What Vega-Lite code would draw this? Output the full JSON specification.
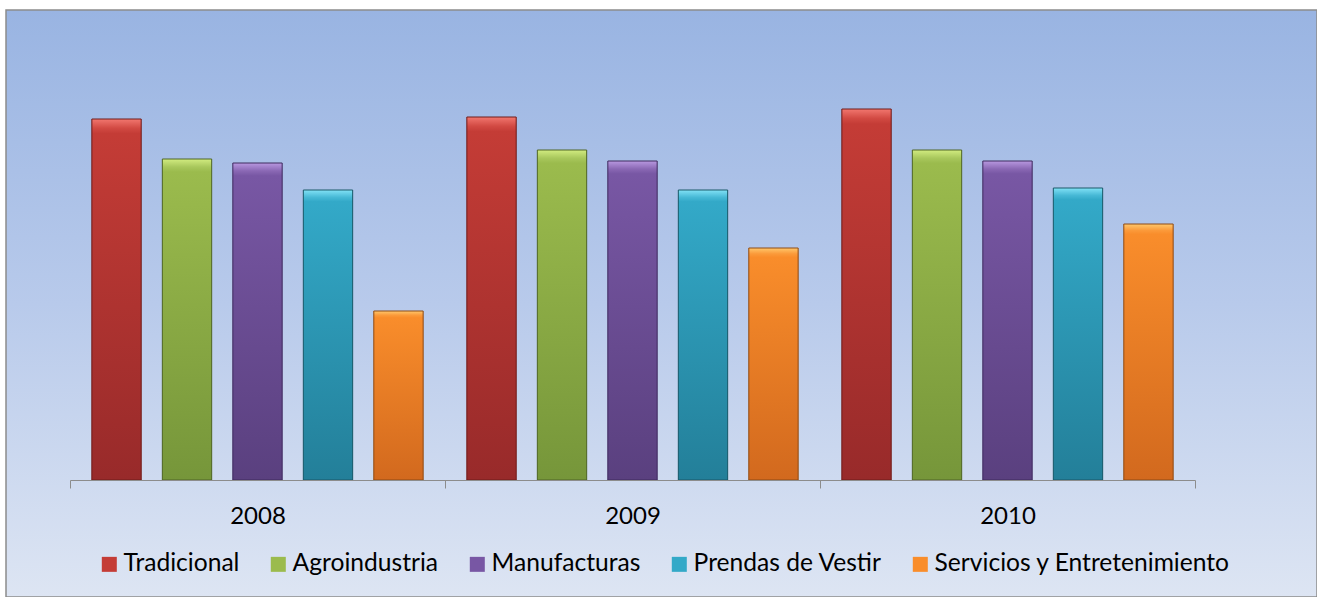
{
  "$schema": "https://vega.github.io/schema/vega-lite/v6.json",
  "autosize": "none",
  "width": 1311,
  "height": 587,
  "padding": {"left": 6, "top": 10, "right": 0, "bottom": 0},
  "background": "#ffffff",
  "config": {
    "view": {"stroke": "#8c8c8c", "strokeWidth": 1.5,
      "fill": {"gradient": "linear", "x1": 0, "y1": 0, "x2": 0, "y2": 1,
        "stops": [{"offset": 0, "color": "#99b4e2"}, {"offset": 0.5, "color": "#b8caeb"}, {"offset": 1, "color": "#dde5f3"}]}},
    "font": "Lato"
  },
  "data": {"values": [
      {"year": "2008", "sector": "Tradicional", "value": 361},
      {"year": "2008", "sector": "Agroindustria", "value": 321},
      {"year": "2008", "sector": "Manufacturas", "value": 317},
      {"year": "2008", "sector": "Prendas de Vestir", "value": 290},
      {"year": "2008", "sector": "Servicios y Entretenimiento", "value": 169},
      {"year": "2009", "sector": "Tradicional", "value": 363},
      {"year": "2009", "sector": "Agroindustria", "value": 330},
      {"year": "2009", "sector": "Manufacturas", "value": 319},
      {"year": "2009", "sector": "Prendas de Vestir", "value": 290},
      {"year": "2009", "sector": "Servicios y Entretenimiento", "value": 232},
      {"year": "2010", "sector": "Tradicional", "value": 371},
      {"year": "2010", "sector": "Agroindustria", "value": 330},
      {"year": "2010", "sector": "Manufacturas", "value": 319},
      {"year": "2010", "sector": "Prendas de Vestir", "value": 292},
      {"year": "2010", "sector": "Servicios y Entretenimiento", "value": 256}
  ]},
  "encoding": {
    "x": {"field": "year", "type": "nominal",
      "scale": {"range": [64, 1189], "paddingInner": 0, "paddingOuter": 0},
      "axis": {"title": null, "labelAngle": 0, "labelFont": "Lato", "labelFontSize": 24, "labelColor": "#000000",
        "labelPadding": 16, "tickSize": 8, "tickColor": "#8c8c8c", "tickWidth": 1, "domainColor": "#8c8c8c", "domainWidth": 1,
        "tickBand": "extent", "offset": -117, "zindex": 1, "grid": false}},
    "xOffset": {"field": "sector", "type": "nominal",
      "scale": {"domain": ["Tradicional", "Agroindustria", "Manufacturas", "Prendas de Vestir", "Servicios y Entretenimiento"],
        "paddingInner": 0.3, "paddingOuter": 0.31}},
    "y": {"field": "value", "type": "quantitative", "axis": null,
      "scale": {"domain": [-117, 470], "nice": false, "zero": false}}
  },
  "layer": [
    {
      "mark": {"type": "bar", "strokeWidth": 0},
      "encoding": {
        "color": {"field": "sector", "type": "nominal",
          "scale": {
            "domain": ["Tradicional", "Agroindustria", "Manufacturas", "Prendas de Vestir", "Servicios y Entretenimiento"],
            "range": ["#c43c36", "#9bbb4d", "#7857a4", "#33a9c8", "#f98d2b"]
          },
          "legend": {"orient": "none", "legendX": 91, "legendY": 542, "direction": "horizontal", "title": null,
            "labelFont": "Lato", "labelFontSize": 24.6, "labelColor": "#000000", "labelLimit": 500,
            "symbolType": "square", "symbolSize": 225, "symbolStrokeWidth": 0, "labelOffset": 2,
            "columnPadding": 26, "padding": 0}
        }
      }
    },
    {
      "transform": [{"filter": {"field": "sector", "equal": "Tradicional"}}],
      "mark": {"type": "bar", "stroke": "#6e1c1a", "strokeWidth": 1,
        "fill": {"gradient": "linear", "x1": 0, "y1": 0, "x2": 0, "y2": 1, "stops": [{"offset": 0, "color": "#f2776f"}, {"offset": 0.025, "color": "#d24a43"}, {"offset": 0.04, "color": "#c43c36"}, {"offset": 1, "color": "#982a2a"}]}}
    },
    {
      "transform": [{"filter": {"field": "sector", "equal": "Agroindustria"}}],
      "mark": {"type": "bar", "stroke": "#4f6527", "strokeWidth": 1,
        "fill": {"gradient": "linear", "x1": 0, "y1": 0, "x2": 0, "y2": 1, "stops": [{"offset": 0, "color": "#d2ec80"}, {"offset": 0.025, "color": "#a8c75c"}, {"offset": 0.04, "color": "#9bbb4d"}, {"offset": 1, "color": "#76963a"}]}}
    },
    {
      "transform": [{"filter": {"field": "sector", "equal": "Manufacturas"}}],
      "mark": {"type": "bar", "stroke": "#3f2b5e", "strokeWidth": 1,
        "fill": {"gradient": "linear", "x1": 0, "y1": 0, "x2": 0, "y2": 1, "stops": [{"offset": 0, "color": "#b898e0"}, {"offset": 0.025, "color": "#8a68b4"}, {"offset": 0.04, "color": "#7857a4"}, {"offset": 1, "color": "#5a407f"}]}}
    },
    {
      "transform": [{"filter": {"field": "sector", "equal": "Prendas de Vestir"}}],
      "mark": {"type": "bar", "stroke": "#1b5868", "strokeWidth": 1,
        "fill": {"gradient": "linear", "x1": 0, "y1": 0, "x2": 0, "y2": 1, "stops": [{"offset": 0, "color": "#82e2f6"}, {"offset": 0.025, "color": "#47b9d6"}, {"offset": 0.04, "color": "#33a9c8"}, {"offset": 1, "color": "#237f99"}]}}
    },
    {
      "transform": [{"filter": {"field": "sector", "equal": "Servicios y Entretenimiento"}}],
      "mark": {"type": "bar", "stroke": "#8e4a14", "strokeWidth": 1,
        "fill": {"gradient": "linear", "x1": 0, "y1": 0, "x2": 0, "y2": 1, "stops": [{"offset": 0, "color": "#ffc86c"}, {"offset": 0.025, "color": "#fb9a3a"}, {"offset": 0.04, "color": "#f98d2b"}, {"offset": 1, "color": "#d2691e"}]}}
    }
  ]
}
